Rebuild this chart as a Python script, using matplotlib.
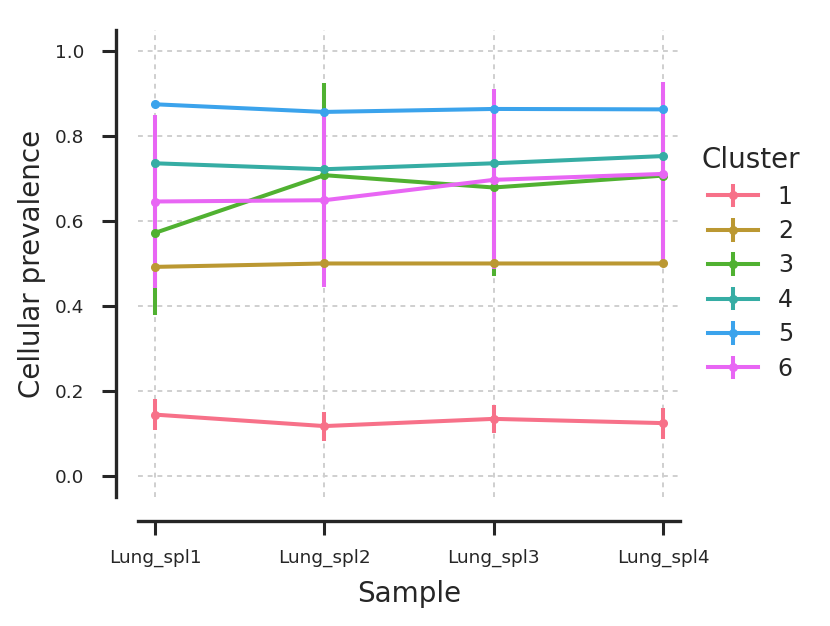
import matplotlib
matplotlib.use("Agg")
import matplotlib.pyplot as plt
import seaborn as sns
import numpy as np

# samples on the x axis
samples = ["Lung_spl1", "Lung_spl2", "Lung_spl3", "Lung_spl4"]
clusters = ["1", "2", "3", "4", "5", "6"]

# mean cellular prevalence per cluster
mean_1 = [0.144, 0.117, 0.134, 0.124]
mean_2 = [0.492, 0.500, 0.500, 0.500]
mean_3 = [0.572, 0.708, 0.679, 0.707]
mean_4 = [0.736, 0.722, 0.736, 0.753]
mean_5 = [0.875, 0.857, 0.864, 0.863]
mean_6 = [0.646, 0.649, 0.697, 0.711]

# error bar limits (low / high), hidden ones are guessed
low_1 = [0.107, 0.081, 0.101, 0.087]
high_1 = [0.181, 0.150, 0.166, 0.159]
low_2 = [0.485, 0.495, 0.495, 0.495]
high_2 = [0.500, 0.505, 0.505, 0.505]
low_3 = [0.379, 0.490, 0.471, 0.500]
high_3 = [0.760, 0.925, 0.880, 0.900]
low_4 = [0.725, 0.710, 0.725, 0.742]
high_4 = [0.748, 0.735, 0.748, 0.765]
low_5 = [0.870, 0.852, 0.859, 0.858]
high_5 = [0.880, 0.862, 0.869, 0.868]
low_6 = [0.442, 0.445, 0.486, 0.500]
high_6 = [0.849, 0.848, 0.911, 0.928]

means = [mean_1, mean_2, mean_3, mean_4, mean_5, mean_6]
lows = [low_1, low_2, low_3, low_4, low_5, low_6]
highs = [high_1, high_2, high_3, high_4, high_5, high_6]

colors = sns.color_palette("husl", 6)

fig = plt.figure(figsize=(8.3, 6.26), dpi=100)
ax = fig.add_axes([0.1663, 0.2061, 0.653, 0.746])

x = np.arange(len(samples))
for name, m, lo, hi, c in zip(clusters, means, lows, highs, colors):
    m = np.array(m)
    yerr = [m - np.array(lo), np.array(hi) - m]
    ax.errorbar(x, m, yerr=yerr, color=c, lw=2.9, elinewidth=2.9,
                marker="o", markersize=5.5, capsize=0, label=name)

ax.set_xlim(-0.1, 3.1)
ax.set_ylim(-0.05, 1.05)
ax.set_xticks(x)
ax.set_xticklabels(samples)
ax.set_yticks(np.arange(0, 1.01, 0.2))
ax.set_yticklabels([f"{v:.1f}" for v in np.arange(0, 1.01, 0.2)])

ax.grid(True, ls=(0, (2.5, 2.5)), color="#cfcfcf", lw=1.4)
ax.set_axisbelow(True)

for s in ["top", "right"]:
    ax.spines[s].set_visible(False)
ax.spines["left"].set_position(("outward", 15.8))
ax.spines["bottom"].set_position(("outward", 17.3))
for s in ["left", "bottom"]:
    ax.spines[s].set_linewidth(2.4)
    ax.spines[s].set_color("#262626")

ax.tick_params(axis="both", length=10, width=2.2, color="#262626",
               labelsize=13.3, labelcolor="#262626")
ax.tick_params(axis="y", pad=13)
ax.tick_params(axis="x", pad=10)

ax.set_xlabel("Sample", fontsize=20, color="#262626", labelpad=9)
ax.set_ylabel("Cellular prevalence", fontsize=20, color="#262626", labelpad=6)

leg = ax.legend(title="Cluster", loc="center left", bbox_to_anchor=(1.0, 0.5),
                frameon=False, fontsize=17, title_fontsize=20,
                handlelength=2.1, handletextpad=0.85, labelspacing=0.44)
for t in leg.get_texts():
    t.set_color("#262626")
leg.get_title().set_color("#262626")

fig.savefig("out.png", dpi=100)
